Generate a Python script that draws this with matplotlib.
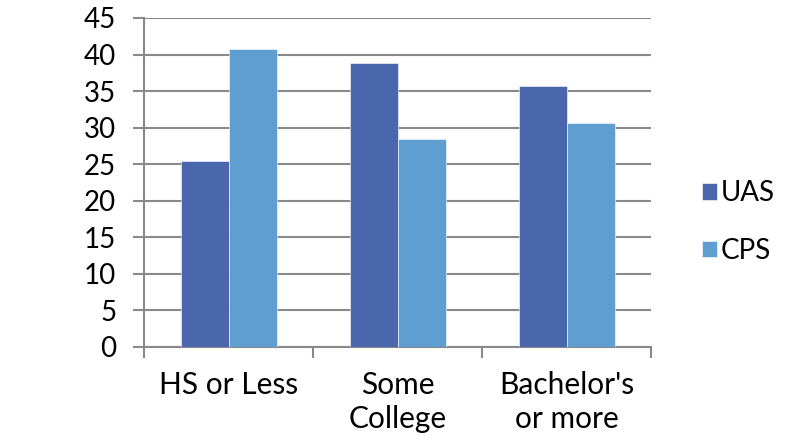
import matplotlib
matplotlib.use("Agg")
import matplotlib.pyplot as plt
import numpy as np

categories = ["HS or Less", "Some\nCollege", "Bachelor's\nor more"]
uas = [25.4, 38.9, 35.7]
cps = [40.8, 28.4, 30.6]
yticks = [0, 5, 10, 15, 20, 25, 30, 35, 40, 45]

plt.rcParams['font.family'] = ['Lato', 'DejaVu Sans']

fig = plt.figure(figsize=(8, 4.4), dpi=100)
ax = fig.add_axes([0.18, 0.2114, 0.634, 0.7477])

x = np.arange(len(categories))
w = 0.284
grey = '#898989'
ax.bar(x - w/2, uas, w, color='#4A66AC', label='UAS', edgecolor='white', linewidth=0.4, zorder=3)
ax.bar(x + w/2, cps, w, color='#5F9ED1', label='CPS', edgecolor='white', linewidth=0.4, zorder=3)

ax.set_xlim(-0.5, 2.5)
ax.set_ylim(0, 45)
ax.set_yticks(yticks)
ax.set_yticklabels([str(t) for t in yticks], fontsize=20)
ax.yaxis.grid(True, color=grey, linewidth=1.5, zorder=0)
ax.set_axisbelow(True)

ax.set_xticks(x)
ax.set_xticklabels(categories, fontsize=21.5, linespacing=1.3)
ax.tick_params(axis='x', which='major', length=0, pad=17)
ax.set_xticks([-0.5, 0.5, 1.5, 2.5], minor=True)
ax.tick_params(axis='x', which='minor', length=8, width=1.5, color=grey)
ax.tick_params(axis='y', length=8, width=1.5, color=grey, pad=12)

for s in ['top', 'right']:
    ax.spines[s].set_visible(False)
for s in ['left', 'bottom']:
    ax.spines[s].set_color(grey)
    ax.spines[s].set_linewidth(1.5)

leg = ax.legend(loc='center left', bbox_to_anchor=(1.05, 0.38), frameon=False,
                fontsize=20, handlelength=0.55, handleheight=0.55, handletextpad=0.15,
                labelspacing=1.15)

fig.savefig("out.png", dpi=100)
